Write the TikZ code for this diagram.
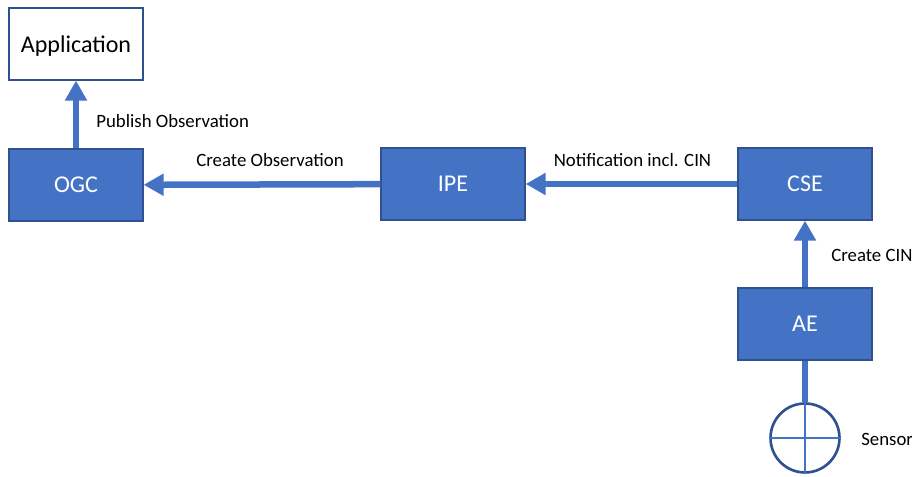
\documentclass[tikz,border=0pt]{standalone}
\usepackage{fontspec}
\setmainfont{Carlito}
\usetikzlibrary{arrows.meta,positioning}
\definecolor{boxblue}{RGB}{68,114,196}
\definecolor{boxedge}{RGB}{47,82,143}
\tikzstyle{block} = [draw=boxedge,line width=0.7pt,fill=boxblue,text=white,minimum width=2.68cm,minimum height=1.44cm,font=\fontsize{13.7}{16}\selectfont]
\tikzstyle{appblock} = [block,fill=white,text=black,text depth=0pt]
\tikzstyle{flow} = [line width=3.7pt,color=boxblue,-{Triangle[length=0.4cm,width=0.42cm]}]
\tikzstyle{tag} = [font=\fontsize{10.7}{13}\selectfont,inner sep=0pt]

\begin{document}
\begin{tikzpicture}
\useasboundingbox (0,0) rectangle (18.24,9.54);
% Blocks
\node[appblock] (app) at (1.52,8.66) {Application};
\node[block] (ogc) at (1.52,5.84) {OGC};
\node[block,minimum width=2.88cm] (ipe) at (9.06,5.86) {IPE};
\node[block] (cse) at (16.1,5.86) {CSE};
\node[block] (ae) at (16.1,3.06) {AE};
\node[circle,draw=boxedge,line width=1.5pt,minimum size=1.38cm,inner sep=0pt] (sensor) at (16.1,0.78) {};
% Sensor cross
\draw[boxblue,line width=1.6pt] (sensor.north) -- (sensor.south);
\draw[boxblue,line width=1.6pt] (sensor.west) -- (sensor.east);
% Flows
\draw[flow] (ogc) -- (app);
\draw[flow] (ipe) -- (ogc);
\draw[flow] (cse) -- (ipe);
\draw[flow] (ae) -- (cse);
\draw[line width=3.7pt,boxblue] (sensor) -- (ae);
% Labels
\node[tag,right] (publish) at (1.92,7.12) {Publish Observation};
\node[tag] (create) at (5.4,6.34) {Create Observation};
\node[tag] (notify) at (12.65,6.34) {Notification incl. CIN};
\node[tag,right] (createcin) at (16.62,4.44) {Create CIN};
\node[tag,right] (sensorlabel) at (17.22,0.76) {Sensor};
\end{tikzpicture}
\end{document}
